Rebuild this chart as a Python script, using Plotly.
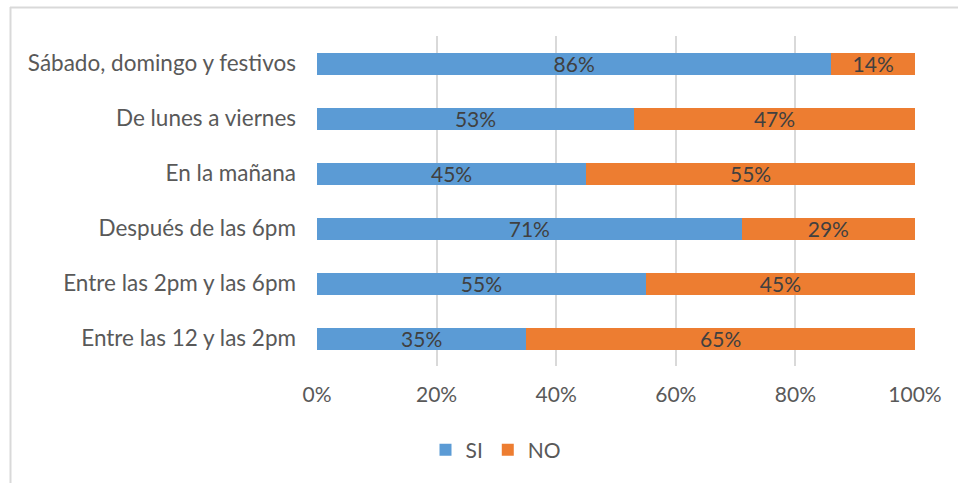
import plotly.graph_objects as go

# Franjas horarias / días, listadas de arriba hacia abajo
categorias = [
    "Sábado, domingo y festivos",
    "De lunes a viernes",
    "En la mañana",
    "Después de las 6pm",
    "Entre las 2pm y las 6pm",
    "Entre las 12 y las 2pm",
]
si = [86, 53, 45, 71, 55, 35]
no = [14, 47, 55, 29, 45, 65]
ticks_x = [0, 20, 40, 60, 80, 100]
ticks_x_texto = ["0%", "20%", "40%", "60%", "80%", "100%"]

AZUL = "#5B9BD5"
NARANJA = "#ED7D31"
GRIS_TEXTO = "#595959"
GRIS_ETIQ = "#404040"
GRIS_LINEA = "#D9D9D9"
FUENTE = "Lato"

W, H = 958, 483
L, R, T, B = 317, 43, 36, 117
pw, ph = W - L - R, H - T - B


def px_x(p):
    return (p - L) / pw


def px_y(p):
    return (H - B - p) / ph


fig = go.Figure()
for nombre, valores, color in [("SI", si, AZUL), ("NO", no, NARANJA)]:
    fig.add_trace(go.Bar(
        name=nombre,
        y=categorias,
        x=valores,
        orientation="h",
        marker=dict(color=color, line=dict(width=0)),
        text=[f"{v}%" for v in valores],
        textposition="inside",
        insidetextanchor="middle",
        constraintext="none",
        cliponaxis=False,
        textfont=dict(family=FUENTE, size=21, color=GRIS_ETIQ),
        width=0.4,
    ))

# Marco del gráfico (bordes superior e izquierdo)
fig.add_shape(type="line", xref="paper", yref="paper",
              x0=px_x(10), x1=px_x(960), y0=px_y(7.5), y1=px_y(7.5),
              line=dict(color=GRIS_LINEA, width=2))
fig.add_shape(type="line", xref="paper", yref="paper",
              x0=px_x(10.5), x1=px_x(10.5), y0=px_y(7), y1=px_y(485),
              line=dict(color=GRIS_LINEA, width=2))

fig.update_layout(
    width=W, height=H,
    margin=dict(l=L, r=R, t=T, b=B, pad=0),
    barmode="stack",
    bargap=0.6,
    plot_bgcolor="white",
    paper_bgcolor="white",
    font=dict(family=FUENTE, size=21, color=GRIS_TEXTO),
    uniformtext=dict(mode=False),
    showlegend=True,
    legend=dict(
        orientation="h",
        traceorder="normal",
        x=px_x(496), y=px_y(450),
        xanchor="center", yanchor="middle",
        font=dict(family=FUENTE, size=21, color=GRIS_TEXTO),
        itemwidth=30,
        tracegroupgap=0,
    ),
    xaxis=dict(
        range=[0, 100],
        tickvals=ticks_x,
        ticktext=ticks_x_texto,
        tickfont=dict(size=21),
        showgrid=True,
        gridcolor=GRIS_LINEA,
        gridwidth=2,
        zeroline=False,
        showline=False,
        ticks="",
        ticklabelstandoff=14,
        fixedrange=True,
    ),
    yaxis=dict(
        autorange="reversed",
        tickfont=dict(size=22.5),
        showgrid=False,
        ticks="",
        showline=False,
        ticklabelstandoff=20,
        fixedrange=True,
    ),
)

fig.write_html("out.html")
